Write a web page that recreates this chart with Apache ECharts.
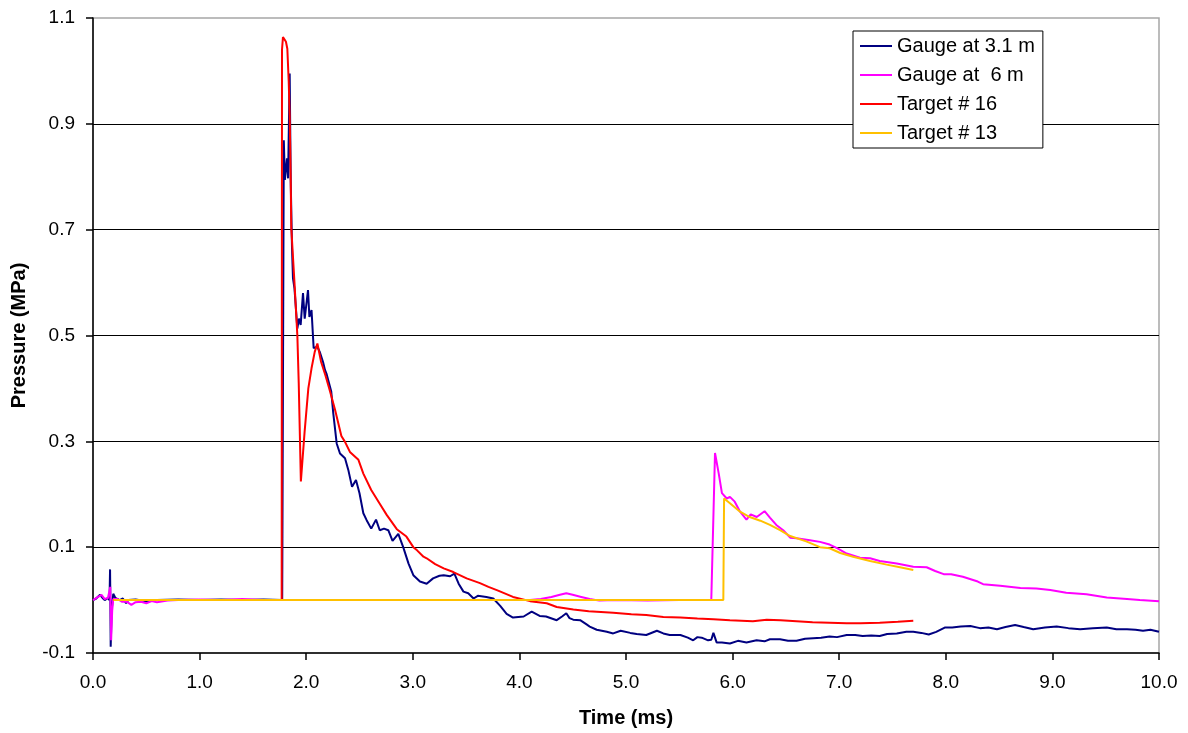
<!DOCTYPE html>
<html>
<head>
<meta charset="utf-8">
<script src="https://cdn.jsdelivr.net/npm/echarts@6/dist/echarts.min.js"></script>
<style>
  html, body { margin: 0; padding: 0; background: #fff; }
  #chart { width: 1188px; height: 733px; }
</style>
</head>
<body>
<div id="chart"></div>
<script>
// Pressure histories: [time (ms), pressure (MPa)]
const gauge31 = [
  [0,0],[0.03,0.003],[0.066,0.01],[0.09,0.004],[0.11,0],[0.14,0.004],[0.155,0.0],[0.16,0.058],[0.163,0.0],
  [0.166,-0.088],[0.175,-0.02],[0.19,0.012],[0.21,0.004],[0.25,0.0],[0.28,0.003],[0.31,-0.006],[0.33,0.0],
  [0.4,0.001],[0.5,-0.002],[0.6,0.0],[0.8,0.001],[1.0,0.0],[1.2,0.001],[1.4,0.0],[1.6,0.001],[1.775,0.0],
  [1.79,0.869],[1.80,0.794],[1.82,0.835],[1.83,0.797],[1.845,0.995],[1.85,0.995],[1.855,0.79],[1.867,0.665],
  [1.876,0.608],[1.89,0.589],[1.917,0.513],[1.932,0.532],[1.948,0.52],[1.97,0.58],[1.986,0.532],[2.017,0.586],
  [2.03,0.535],[2.05,0.548],[2.07,0.476],[2.104,0.479],[2.127,0.469],[2.158,0.45],[2.176,0.435],[2.19,0.428],
  [2.205,0.431],[2.235,0.394],[2.254,0.353],[2.286,0.296],[2.317,0.277],[2.364,0.268],[2.395,0.246],[2.43,0.214],
  [2.467,0.227],[2.50,0.202],[2.536,0.164],[2.567,0.151],[2.61,0.135],[2.655,0.152],[2.69,0.132],[2.73,0.135],
  [2.77,0.132],[2.81,0.112],[2.864,0.125],[2.91,0.10],[2.96,0.069],[3.005,0.047],[3.067,0.035],[3.13,0.031],
  [3.19,0.041],[3.25,0.046],[3.29,0.047],[3.35,0.045],[3.39,0.050],[3.43,0.031],[3.475,0.016],[3.52,0.013],
  [3.57,0.003],[3.61,0.008],[3.69,0.006],[3.755,0.003],[3.82,-0.011],[3.88,-0.026],[3.94,-0.033],[4.04,-0.031],
  [4.115,-0.022],[4.19,-0.030],[4.25,-0.031],[4.35,-0.038],[4.40,-0.031],[4.44,-0.025],[4.47,-0.034],[4.505,-0.037],
  [4.57,-0.038],[4.63,-0.046],[4.66,-0.050],[4.725,-0.056],[4.82,-0.060],[4.88,-0.063],[4.95,-0.058],[5.04,-0.062],
  [5.10,-0.064],[5.19,-0.066],[5.29,-0.058],[5.35,-0.063],[5.41,-0.066],[5.51,-0.066],[5.58,-0.071],[5.63,-0.076],
  [5.67,-0.070],[5.71,-0.071],[5.77,-0.076],[5.80,-0.075],[5.82,-0.062],[5.85,-0.080],[5.90,-0.080],[5.975,-0.082],
  [6.05,-0.077],[6.13,-0.080],[6.225,-0.076],[6.30,-0.078],[6.35,-0.074],[6.445,-0.074],[6.52,-0.077],[6.60,-0.077],
  [6.68,-0.073],[6.755,-0.072],[6.83,-0.071],[6.91,-0.069],[6.98,-0.070],[7.07,-0.066],[7.15,-0.066],[7.22,-0.068],
  [7.30,-0.067],[7.38,-0.068],[7.45,-0.064],[7.54,-0.063],[7.63,-0.060],[7.695,-0.060],[7.77,-0.062],[7.84,-0.065],
  [7.91,-0.060],[7.99,-0.052],[8.06,-0.052],[8.14,-0.050],[8.23,-0.049],[8.32,-0.053],[8.40,-0.052],[8.48,-0.055],
  [8.56,-0.051],[8.65,-0.047],[8.73,-0.051],[8.82,-0.055],[8.93,-0.052],[9.04,-0.050],[9.15,-0.053],[9.26,-0.055],
  [9.38,-0.053],[9.51,-0.052],[9.60,-0.055],[9.70,-0.055],[9.78,-0.056],[9.85,-0.058],[9.92,-0.056],[10.0,-0.060]
];
const gauge6 = [
  [0,0],[0.04,0.005],[0.08,0.01],[0.11,0.002],[0.125,-0.001],[0.14,0.004],[0.155,0.005],[0.162,0.025],
  [0.166,-0.03],[0.17,-0.076],[0.18,-0.02],[0.19,0.002],[0.23,0.002],[0.27,-0.003],[0.316,-0.003],[0.36,-0.009],
  [0.40,-0.004],[0.45,-0.003],[0.50,-0.006],[0.55,-0.002],[0.6,-0.004],[0.7,-0.001],[0.8,0.0],[1.0,0.001],
  [1.2,0.0],[1.4,0.002],[1.6,0.0],[1.8,0.0],[2.5,0.0],[3.0,0.0],[3.5,0.0],[4.1,0.0],[4.2,0.002],[4.3,0.006],
  [4.38,0.010],[4.44,0.013],[4.5,0.010],[4.58,0.006],[4.66,0.002],[4.75,-0.001],[4.9,0.0],[5.2,-0.001],[5.5,0.0],
  [5.80,0.0],[5.835,0.278],[5.87,0.239],[5.90,0.202],[5.945,0.192],[5.975,0.195],[6.02,0.186],[6.07,0.167],
  [6.13,0.152],[6.17,0.162],[6.226,0.157],[6.30,0.168],[6.35,0.156],[6.41,0.142],[6.475,0.132],[6.54,0.118],
  [6.60,0.117],[6.725,0.113],[6.82,0.110],[6.91,0.105],[6.98,0.098],[7.07,0.088],[7.195,0.080],[7.29,0.079],
  [7.38,0.074],[7.54,0.069],[7.695,0.063],[7.82,0.062],[7.90,0.055],[7.98,0.049],[8.05,0.049],[8.16,0.044],
  [8.30,0.035],[8.35,0.030],[8.51,0.027],[8.70,0.023],[8.85,0.022],[8.98,0.019],[9.13,0.014],[9.32,0.011],
  [9.51,0.005],[9.70,0.002],[9.82,0.0],[10.0,-0.002]
];
const target16 = [
  [0.19,0],[0.5,0],[1.0,0],[1.5,0],[1.77,0],[1.773,1.04],[1.782,1.064],[1.80,1.064],[1.81,1.055],[1.823,1.042],
  [1.836,0.98],[1.845,0.916],[1.855,0.79],[1.86,0.703],[1.89,0.60],[1.917,0.50],[1.93,0.41],[1.95,0.224],
  [1.985,0.318],[2.02,0.40],[2.05,0.438],[2.08,0.469],[2.105,0.485],[2.14,0.45],[2.18,0.425],[2.22,0.397],
  [2.27,0.36],[2.33,0.31],[2.364,0.299],[2.41,0.280],[2.49,0.265],[2.536,0.239],[2.61,0.208],[2.69,0.182],
  [2.755,0.161],[2.85,0.134],[2.94,0.12],[3.005,0.10],[3.04,0.094],[3.10,0.082],[3.13,0.079],[3.21,0.068],
  [3.29,0.060],[3.38,0.053],[3.505,0.041],[3.63,0.032],[3.71,0.025],[3.80,0.018],[3.94,0.006],[4.10,-0.002],
  [4.256,-0.006],[4.35,-0.013],[4.506,-0.018],[4.65,-0.021],[4.88,-0.024],[5.05,-0.027],[5.19,-0.028],
  [5.35,-0.032],[5.51,-0.033],[5.67,-0.035],[5.82,-0.036],[5.975,-0.038],[6.19,-0.040],[6.32,-0.037],
  [6.45,-0.038],[6.60,-0.040],[6.75,-0.042],[6.91,-0.043],[7.07,-0.044],[7.2,-0.044],[7.38,-0.043],
  [7.55,-0.041],[7.695,-0.039]
];
const target13 = [
  [0.19,0],[1.0,0],[2.0,0],[3.0,0],[4.0,0],[5.0,0],[5.913,0],[5.92,0.192],[5.975,0.183],[6.07,0.167],
  [6.16,0.157],[6.26,0.15],[6.35,0.142],[6.445,0.132],[6.54,0.121],[6.69,0.111],[6.82,0.10],[6.91,0.098],
  [7.01,0.089],[7.13,0.082],[7.29,0.074],[7.445,0.067],[7.57,0.062],[7.695,0.057]
];

const seriesNames = ['Gauge at 3.1 m', 'Gauge at  6 m', 'Target # 16', 'Target # 13'];
const seriesColors = ['#000080', '#FF00FF', '#FF0000', '#FFC000'];
const seriesData = [gauge31, gauge6, target16, target13];

const yTicks = [-0.1, 0.1, 0.3, 0.5, 0.7, 0.9, 1.1];

const FONT = 'Liberation Sans, Arial, sans-serif';
// plain line swatch for the legend keys
const LINE_ICON = 'path://M0,0 L32,0 L32,2 L0,2 Z';

const chart = echarts.init(document.getElementById('chart'), null, { renderer: 'canvas' });
chart.setOption({
  animation: false,
  backgroundColor: '#ffffff',
  textStyle: { fontFamily: FONT, color: '#000' },
  grid: {
    left: 93, right: 29, top: 18, bottom: 80,
    show: true, borderColor: '#a6a6a6', borderWidth: 1.5, backgroundColor: 'transparent'
  },
  legend: {
    orient: 'vertical',
    left: 853, top: 31,
    padding: [5, 8, 5, 7],
    itemGap: 9,
    itemWidth: 32, itemHeight: 2,
    backgroundColor: '#fff',
    borderColor: '#000', borderWidth: 1,
    textStyle: { fontFamily: FONT, fontSize: 20, color: '#000' },
    data: seriesNames.map(n => ({ name: n, icon: LINE_ICON }))
  },
  xAxis: {
    type: 'value',
    min: 0, max: 10, interval: 1,
    name: 'Time (ms)',
    nameLocation: 'middle',
    nameGap: 55,
    nameTextStyle: { fontFamily: FONT, fontSize: 20, fontWeight: 'bold', color: '#000' },
    axisLine: { onZero: false, lineStyle: { color: '#000', width: 1.5 } },
    axisTick: { show: true, inside: false, length: 7, lineStyle: { color: '#000', width: 1.5 } },
    axisLabel: { fontFamily: FONT, fontSize: 19, color: '#000', margin: 20,
      formatter: v => v.toFixed(1) },
    splitLine: { show: false }
  },
  yAxis: {
    type: 'value',
    min: -0.1, max: 1.1,
    name: 'Pressure (MPa)',
    nameLocation: 'middle',
    nameGap: 64,
    nameRotate: 90,
    nameTextStyle: { fontFamily: FONT, fontSize: 20, fontWeight: 'bold', color: '#000' },
    axisLine: { show: true, onZero: false, lineStyle: { color: '#000', width: 1.5 } },
    axisTick: { show: true, inside: false, length: 7, customValues: yTicks,
      lineStyle: { color: '#000', width: 1.5 } },
    axisLabel: { fontFamily: FONT, fontSize: 19, color: '#000', margin: 18,
      customValues: yTicks, formatter: v => v.toFixed(1) },
    splitLine: { show: true, showMinLine: false, showMaxLine: false,
      lineStyle: { color: '#000', width: 1.2 } }
  },
  series: seriesData.map((d, i) => ({
    name: seriesNames[i],
    type: 'line',
    data: d,
    symbol: 'none',
    smooth: false,
    z: 2 + i,
    lineStyle: { color: seriesColors[i], width: 2 },
    itemStyle: { color: seriesColors[i] }
  }))
});
</script>
</body>
</html>
